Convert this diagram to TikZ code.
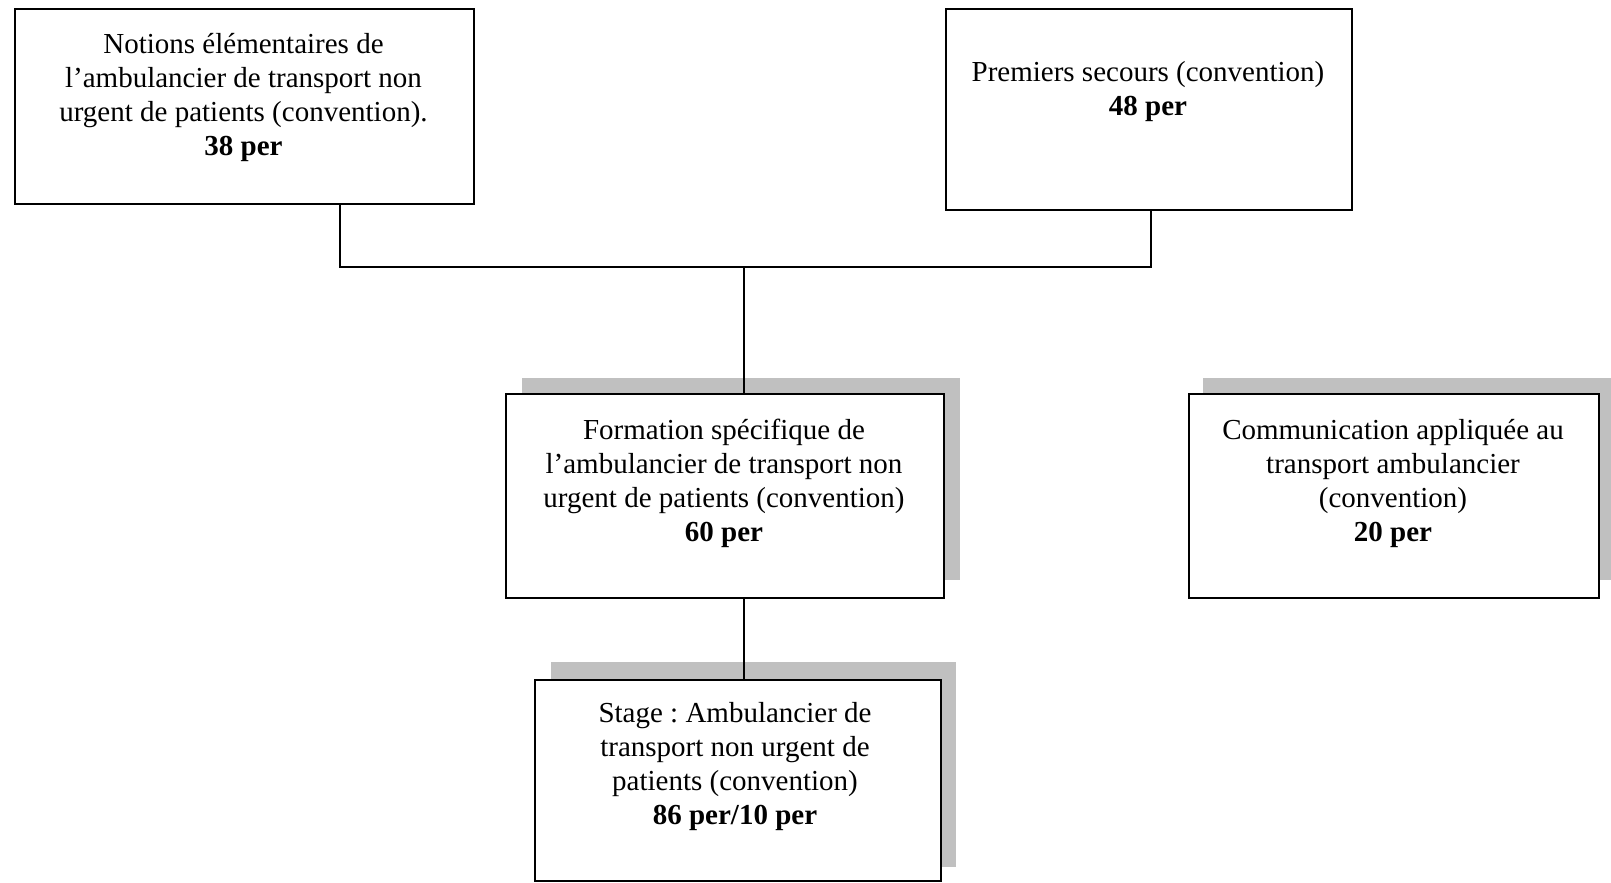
\documentclass[tikz,border=0pt]{standalone}
\usepackage{fontspec}
\setmainfont{Liberation Serif}
\frenchspacing
\definecolor{shadowgray}{HTML}{C0C0C0}
\begin{document}
\begin{tikzpicture}[x=1pt,y=-1pt,
  box/.style={draw=black, line width=2.2pt, fill=white, inner sep=0pt, anchor=north west},
  shadowbox/.style={fill=shadowgray, draw=none},
  txt/.style={anchor=north, align=center, inner sep=0pt, font=\fontsize{29}{34}\selectfont},
  link/.style={draw=black, line width=2.2pt}]
\useasboundingbox (0,0) rectangle (1611,883);
% shadows
\fill[shadowbox] (522,378) rectangle (960,580);
\fill[shadowbox] (1203,378) rectangle (1612,580);
\fill[shadowbox] (551,662) rectangle (956,867);
% boxes
\node[box, minimum width=459pt, minimum height=195pt] (b1) at (14,8) {};
\node[box, minimum width=406pt, minimum height=201pt] (b2) at (945,8) {};
\node[box, minimum width=438pt, minimum height=204pt] (b3) at (505,393) {};
\node[box, minimum width=410pt, minimum height=204pt] (b4) at (1188,393) {};
\node[box, minimum width=406pt, minimum height=201pt] (b5) at (534,679) {};
% texts
\node[txt] (t1) at (243.5,29.2) {\strut Notions élémentaires de\\ l’ambulancier de transport non\\ urgent de patients (convention).\\ \textbf{38 per}};
\node[txt] (t2) at (1148,57.2) {\strut Premiers secours (convention)\\ \textbf{48 per}};
\node[txt] (t3) at (724,415) {\strut Formation spécifique de\\ l’ambulancier de transport non\\ urgent de patients (convention)\\ \textbf{60 per}};
\node[txt] (t4) at (1393,415) {\strut Communication appliquée au\\ transport ambulancier\\ (convention)\\ \textbf{20 per}};
\node[txt] (t5) at (735,698) {\strut Stage : Ambulancier de\\ transport non urgent de\\ patients (convention)\\ \textbf{86 per/10 per}};
% connectors
\coordinate (j1) at (340,267);
\coordinate (j2) at (1151,267);
\coordinate (j3) at (744,267);
\draw[link] (j1 |- b1.south) -- (j1) -- (j2) -- (j2 |- b2.south);
\draw[link] (j3) -- (j3 |- b3.north);
\draw[link] (j3 |- b3.south) -- (j3 |- b5.north);
\end{tikzpicture}
\end{document}
